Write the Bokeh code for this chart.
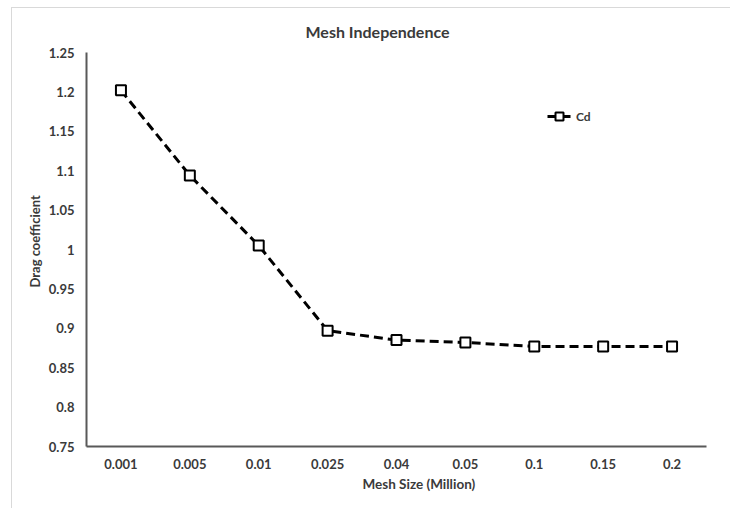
from bokeh.plotting import figure
from bokeh.models import Range1d, FixedTicker, NumeralTickFormatter, Title
from bokeh.embed import file_html
from bokeh.resources import INLINE

mesh_sizes = ["0.001", "0.005", "0.01", "0.025", "0.04", "0.05", "0.1", "0.15", "0.2"]
cd_values = [1.202, 1.094, 1.005, 0.897, 0.885, 0.882, 0.877, 0.877, 0.877]
y_ticks = [0.75, 0.8, 0.85, 0.9, 0.95, 1.0, 1.05, 1.1, 1.15, 1.2, 1.25]

FONT = "Lato"
TXT = "#3a3a3a"

p = figure(width=719, height=501, x_range=mesh_sizes, y_range=Range1d(0.75, 1.25),
           output_backend="svg", toolbar_location=None,
           min_border_left=74, min_border_right=25, min_border_top=44, min_border_bottom=63)
p.styles = {"margin-left": "11px", "margin-top": "7px",
            "border-left": "1px solid #d9d9d9", "border-top": "1px solid #d9d9d9"}

p.outline_line_color = None
p.xgrid.visible = False
p.ygrid.visible = False

p.yaxis.ticker = FixedTicker(ticks=y_ticks)
p.yaxis.formatter = NumeralTickFormatter(format="0.[00]")

for ax in (p.xaxis, p.yaxis):
    ax.axis_line_color = "#595959"
    ax.axis_line_width = 2
    ax.major_tick_line_color = None
    ax.minor_tick_line_color = None
    ax.major_tick_out = 0
    ax.major_tick_in = 0
    ax.major_label_text_font = FONT
    ax.major_label_text_font_style = "bold"
    ax.major_label_text_font_size = "13px"
    ax.major_label_text_color = TXT
    ax.major_label_standoff = 12

p.line(mesh_sizes, cd_values, line_color="black", line_width=3, line_dash="9 5", legend_label="Cd")
p.scatter(mesh_sizes, cd_values, marker="square", size=10, line_color="black", line_width=2,
          fill_color="white", legend_label="Cd")

lg = p.legend[0]
lg.location = (461, 320)
lg.border_line_color = None
lg.background_fill_alpha = 0
lg.padding = 0
lg.margin = 0
lg.glyph_width = 24
lg.glyph_height = 20
lg.label_standoff = 5
lg.label_text_font = FONT
lg.label_text_font_style = "bold"
lg.label_text_font_size = "12px"
lg.label_text_color = TXT

p.add_layout(Title(text="Mesh Independence", align="left", offset=219,
                   text_font=FONT, text_font_style="bold", text_font_size="16px",
                   text_color=TXT, standoff=23), "above")
p.add_layout(Title(text="Mesh Size (Million)", align="left", offset=276,
                   text_font=FONT, text_font_style="bold", text_font_size="13.5px",
                   text_color=TXT, standoff=5), "below")
p.add_layout(Title(text="Drag coefficient", align="left", offset=159,
                   text_font=FONT, text_font_style="bold", text_font_size="13px",
                   text_color=TXT, standoff=5), "left")

open("out.html", "w").write(file_html(p, INLINE))
